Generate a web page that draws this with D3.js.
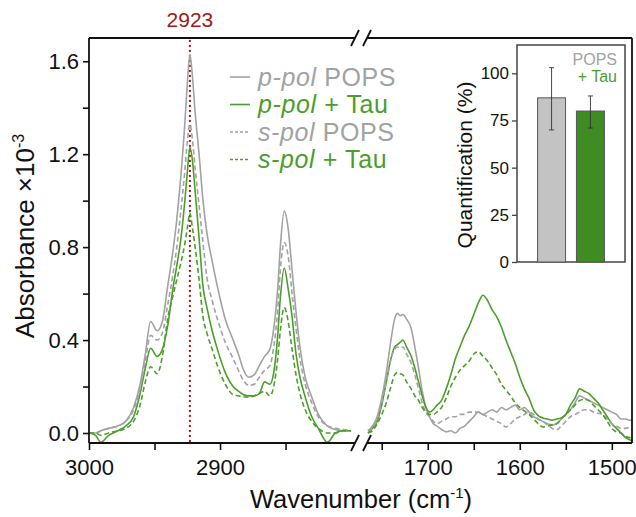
<!DOCTYPE html>
<html>
<head>
<meta charset="utf-8">
<script src="https://cdn.jsdelivr.net/npm/d3@7"></script>
<style>
  html, body { margin: 0; padding: 0; background: #fff; }
  svg { display: block; font-family: "Liberation Sans", Arial, sans-serif; }
</style>
</head>
<body>
<svg id="chart" width="636" height="517"></svg>
<script>
// ---------------- DATA ----------------
const wnLeft = [3000, 2995, 2991, 2985, 2978, 2972, 2966, 2961, 2957, 2953, 2948, 2944, 2940, 2936, 2933, 2930, 2927, 2925, 2923, 2921, 2919, 2916, 2913, 2910, 2906, 2902, 2896, 2890, 2886, 2882, 2878, 2874, 2870, 2866, 2862, 2859, 2856, 2854, 2851, 2848, 2845, 2842, 2839, 2835, 2830, 2825, 2818, 2812, 2806, 2800];
const pPolPOPS_L = [0.00, 0.00, 0.01, 0.02, 0.03, 0.05, 0.11, 0.21, 0.34, 0.48, 0.44, 0.48, 0.63, 0.78, 0.92, 1.10, 1.32, 1.50, 1.63, 1.53, 1.38, 1.20, 1.00, 0.86, 0.74, 0.63, 0.49, 0.40, 0.34, 0.27, 0.24, 0.25, 0.29, 0.33, 0.36, 0.45, 0.62, 0.80, 0.955, 0.88, 0.70, 0.52, 0.37, 0.24, 0.155, 0.08, 0.03, 0.015, 0.01, 0.01];
const pPolTau_L = [0.00, -0.01, -0.04, -0.01, 0.01, 0.03, 0.07, 0.17, 0.28, 0.365, 0.33, 0.36, 0.46, 0.62, 0.72, 0.83, 0.99, 1.12, 1.23, 1.17, 1.04, 0.84, 0.63, 0.54, 0.44, 0.36, 0.26, 0.20, 0.18, 0.165, 0.16, 0.16, 0.17, 0.22, 0.21, 0.26, 0.42, 0.58, 0.71, 0.62, 0.50, 0.34, 0.24, 0.155, 0.07, 0.02, -0.04, 0.00, 0.01, 0.01];
const sPolPOPS_L = [0.00, 0.00, 0.01, 0.02, 0.03, 0.05, 0.10, 0.19, 0.31, 0.42, 0.40, 0.43, 0.55, 0.68, 0.80, 0.95, 1.12, 1.25, 1.33, 1.26, 1.14, 0.98, 0.82, 0.67, 0.57, 0.49, 0.39, 0.32, 0.27, 0.225, 0.205, 0.21, 0.24, 0.27, 0.29, 0.37, 0.53, 0.70, 0.82, 0.76, 0.60, 0.45, 0.32, 0.21, 0.13, 0.07, 0.03, 0.02, 0.015, 0.01];
const sPolTau_L = [0.00, 0.00, -0.01, 0.00, 0.01, 0.02, 0.05, 0.12, 0.22, 0.285, 0.255, 0.33, 0.49, 0.59, 0.66, 0.73, 0.81, 0.88, 0.946, 0.88, 0.80, 0.66, 0.50, 0.43, 0.36, 0.29, 0.21, 0.165, 0.16, 0.155, 0.155, 0.16, 0.17, 0.18, 0.16, 0.20, 0.32, 0.44, 0.54, 0.48, 0.36, 0.25, 0.17, 0.10, 0.05, 0.02, 0.00, 0.00, 0.01, 0.01];

const wnRight = [1765, 1760, 1755, 1750, 1745, 1740, 1736, 1733, 1730, 1727, 1723, 1718, 1714, 1710, 1706, 1702, 1698, 1694, 1690, 1685, 1680, 1675, 1670, 1665, 1660, 1655, 1650, 1645, 1640, 1635, 1630, 1625, 1620, 1615, 1610, 1605, 1600, 1595, 1590, 1585, 1580, 1575, 1570, 1565, 1560, 1555, 1550, 1545, 1540, 1535, 1530, 1525, 1520, 1515, 1510, 1505, 1500, 1495, 1490, 1485, 1480, 1477];
const pPolPOPS_R = [0.01, 0.03, 0.07, 0.15, 0.26, 0.40, 0.49, 0.515, 0.505, 0.51, 0.49, 0.45, 0.37, 0.28, 0.18, 0.11, 0.07, 0.04, 0.03, 0.015, 0.005, 0.01, 0.00, 0.02, 0.03, 0.05, 0.07, 0.09, 0.08, 0.09, 0.10, 0.09, 0.11, 0.10, 0.11, 0.12, 0.10, 0.11, 0.09, 0.07, 0.06, 0.05, 0.04, 0.035, 0.04, 0.06, 0.08, 0.10, 0.13, 0.16, 0.15, 0.14, 0.13, 0.12, 0.11, 0.10, 0.09, 0.08, 0.06, 0.06, 0.055, 0.06];
const pPolTau_R = [0.00, 0.02, 0.05, 0.12, 0.22, 0.32, 0.37, 0.38, 0.39, 0.40, 0.37, 0.33, 0.28, 0.22, 0.16, 0.11, 0.09, 0.10, 0.12, 0.14, 0.19, 0.25, 0.32, 0.37, 0.42, 0.46, 0.51, 0.56, 0.593, 0.57, 0.53, 0.50, 0.456, 0.40, 0.35, 0.30, 0.24, 0.19, 0.15, 0.10, 0.075, 0.065, 0.06, 0.055, 0.06, 0.065, 0.08, 0.12, 0.15, 0.19, 0.18, 0.17, 0.15, 0.13, 0.10, 0.07, 0.04, 0.02, 0.00, -0.02, -0.03, -0.035];
const sPolPOPS_R = [0.01, 0.02, 0.06, 0.13, 0.22, 0.32, 0.36, 0.37, 0.365, 0.37, 0.34, 0.30, 0.25, 0.19, 0.13, 0.09, 0.07, 0.05, 0.04, 0.05, 0.06, 0.07, 0.07, 0.08, 0.08, 0.09, 0.09, 0.09, 0.08, 0.07, 0.06, 0.05, 0.04, 0.026, 0.04, 0.06, 0.07, 0.08, 0.09, 0.08, 0.06, 0.05, 0.035, 0.02, 0.013, 0.03, 0.05, 0.07, 0.08, 0.09, 0.10, 0.10, 0.09, 0.085, 0.08, 0.06, 0.04, 0.03, 0.02, 0.02, 0.026, 0.03];
const sPolTau_R = [0.00, 0.01, 0.04, 0.08, 0.13, 0.20, 0.25, 0.26, 0.255, 0.25, 0.22, 0.19, 0.16, 0.14, 0.11, 0.09, 0.08, 0.08, 0.09, 0.11, 0.15, 0.20, 0.24, 0.27, 0.29, 0.31, 0.34, 0.35, 0.33, 0.31, 0.28, 0.25, 0.21, 0.185, 0.16, 0.13, 0.11, 0.095, 0.08, 0.06, 0.04, 0.026, 0.03, 0.035, 0.04, 0.06, 0.08, 0.10, 0.12, 0.14, 0.145, 0.14, 0.12, 0.10, 0.08, 0.05, 0.02, 0.005, 0.00, -0.015, -0.02, -0.02];

const markerWn = 2923;

const yTicks = [0.0, 0.4, 0.8, 1.2, 1.6];
const yMinorTicks = [0.2, 0.6, 1.0, 1.4];
const xTicksLeft = [3000, 2900];
const xMinorLeft = [2950, 2850];
const xTicksRight = [1700, 1600, 1500];
const xMinorRight = [1750, 1650, 1550];

const legendLabels = [["p-pol", " POPS"], ["p-pol", " + Tau"], ["s-pol", " POPS"], ["s-pol", " + Tau"]];

const barCats = ["POPS", "+ Tau"];
const barValues = [87, 80];
const barErrLow = [70, 71];
const barErrHigh = [103, 88];
const insetTicks = [0, 25, 50, 75, 100];

// ---------------- STYLE ----------------
const GRAY = "#a2a2a2";
const GREEN = "#4c9e2c";
const RED = "#a01818";
const series = [
  { L: pPolPOPS_L, R: pPolPOPS_R, color: GRAY, dash: null },
  { L: pPolTau_L, R: pPolTau_R, color: GREEN, dash: null },
  { L: sPolPOPS_L, R: sPolPOPS_R, color: GRAY, dash: "5,3" },
  { L: sPolTau_L, R: sPolTau_R, color: GREEN, dash: "5,3" }
];

const svg = d3.select("#chart");
const pTop = 38, pBottom = 443, pLeft = 89, pRight = 632;
const breakL = 355, breakR = 367;

const y = d3.scaleLinear().domain([-0.043, 1.70]).range([pBottom, pTop]);
const xL = d3.scaleLinear().domain([3000, 2797]).range([pLeft, breakL]);
const xR = d3.scaleLinear().domain([1766, 1477]).range([breakR, pRight + 1]);

// clip paths
const defs = svg.append("defs");
defs.append("clipPath").attr("id", "clipL").append("rect")
  .attr("x", pLeft).attr("y", pTop).attr("width", breakL - pLeft).attr("height", pBottom - pTop);
defs.append("clipPath").attr("id", "clipR").append("rect")
  .attr("x", breakR).attr("y", pTop).attr("width", pRight - breakR).attr("height", pBottom - pTop);

// red dotted marker line
svg.append("line")
  .attr("x1", xL(markerWn)).attr("x2", xL(markerWn))
  .attr("y1", pTop + 3).attr("y2", pBottom)
  .attr("stroke", RED).attr("stroke-width", 2.3)
  .attr("stroke-dasharray", "0.1,4.9").attr("stroke-linecap", "round");
svg.append("text")
  .attr("x", xL(markerWn)).attr("y", 27)
  .attr("text-anchor", "middle").attr("font-size", 21).attr("fill", RED)
  .text(String(markerWn));

// spectra
const lineL = d3.line().x((d, i) => xL(wnLeft[i])).y(d => y(d)).curve(d3.curveMonotoneX);
const lineR = d3.line().x((d, i) => xR(wnRight[i])).y(d => y(d)).curve(d3.curveMonotoneX);
const gL = svg.append("g").attr("clip-path", "url(#clipL)");
const gR = svg.append("g").attr("clip-path", "url(#clipR)");
series.forEach(s => {
  gL.append("path").attr("d", lineL(s.L)).attr("fill", "none")
    .attr("stroke", s.color).attr("stroke-width", 1.6)
    .attr("stroke-dasharray", s.dash);
  gR.append("path").attr("d", lineR(s.R)).attr("fill", "none")
    .attr("stroke", s.color).attr("stroke-width", 1.6)
    .attr("stroke-dasharray", s.dash);
});

// frame
const frame = svg.append("g").attr("stroke", "#111").attr("stroke-width", 1.8).attr("fill", "none");
frame.append("line").attr("x1", pLeft).attr("x2", pLeft).attr("y1", pTop).attr("y2", pBottom);
frame.append("line").attr("x1", pRight).attr("x2", pRight).attr("y1", pTop).attr("y2", pBottom);
[pTop, pBottom].forEach(yy => {
  frame.append("line").attr("x1", pLeft).attr("x2", breakL).attr("y1", yy).attr("y2", yy);
  frame.append("line").attr("x1", breakR).attr("x2", pRight).attr("y1", yy).attr("y2", yy);
  [breakL, breakR].forEach(cx => {
    frame.append("line").attr("x1", cx - 4).attr("x2", cx + 4)
      .attr("y1", yy + 8).attr("y2", yy - 8);
  });
});

// axes
function styleAxis(g, fs) {
  g.select(".domain").remove();
  g.selectAll(".tick line").attr("stroke", "#111").attr("stroke-width", 1.6);
  g.selectAll(".tick text").attr("font-size", fs).attr("fill", "#111")
    .attr("font-family", "'Liberation Sans', Arial, sans-serif");
}
svg.append("g").attr("transform", `translate(${pLeft},0)`)
  .call(d3.axisLeft(y).tickValues(yTicks).tickSize(6).tickPadding(4).tickFormat(d3.format(".1f")))
  .call(g => styleAxis(g, 22));
svg.append("g").attr("transform", `translate(${pLeft},0)`)
  .call(d3.axisLeft(y).tickValues(yMinorTicks).tickSize(6).tickFormat(""))
  .call(g => styleAxis(g, 22));
[[xL, xTicksLeft, xMinorLeft], [xR, xTicksRight, xMinorRight]].forEach(([sc, major, minor]) => {
  svg.append("g").attr("transform", `translate(0,${pBottom})`)
    .call(d3.axisBottom(sc).tickValues(major).tickSize(7).tickPadding(9).tickFormat(d3.format("d")))
    .call(g => styleAxis(g, 22));
  svg.append("g").attr("transform", `translate(0,${pBottom})`)
    .call(d3.axisBottom(sc).tickValues(minor).tickSize(7).tickFormat(""))
    .call(g => styleAxis(g, 22));
});

// axis titles
const yTitle = svg.append("text")
  .attr("transform", "translate(34,236) rotate(-90)")
  .attr("text-anchor", "middle").attr("font-size", 26).attr("fill", "#111");
yTitle.append("tspan").text("Absorbance ×10");
yTitle.append("tspan").attr("dy", -10).attr("font-size", 16).text("-3");

const xTitle = svg.append("text")
  .attr("x", 361).attr("y", 508)
  .attr("text-anchor", "middle").attr("font-size", 25.5).attr("fill", "#111");
xTitle.append("tspan").text("Wavenumber (cm");
xTitle.append("tspan").attr("dy", -10).attr("font-size", 15).text("-1");
xTitle.append("tspan").attr("dy", 10).text(")");

// legend
const legY0 = 77, legDy = 27.5;
series.forEach((s, i) => {
  const yy = legY0 + i * legDy;
  svg.append("line").attr("x1", 230).attr("x2", 250).attr("y1", yy).attr("y2", yy)
    .attr("stroke", s.color).attr("stroke-width", 1.6)
    .attr("stroke-dasharray", s.dash ? "3,2" : null);
  const t = svg.append("text").attr("x", 258).attr("y", yy + 8.5)
    .attr("font-size", 25).attr("letter-spacing", 0.6).attr("fill", s.color);
  t.append("tspan").attr("font-style", "italic").text(legendLabels[i][0]);
  t.append("tspan").text(legendLabels[i][1]);
});

// inset bar chart
const inL = 517, inR = 625, inT = 45, inB = 262;
const yi = d3.scaleLinear().domain([0, 115]).range([inB, inT]);
const xi = d3.scaleBand().domain(barCats).range([inL, inR]).paddingInner(0.28).paddingOuter(0.53);
svg.append("rect").attr("x", inL).attr("y", inT).attr("width", inR - inL).attr("height", inB - inT)
  .attr("fill", "#fff").attr("stroke", "#444").attr("stroke-width", 1.5);
const barFill = ["#c3c3c3", "#3f8c22"];
barCats.forEach((c, i) => {
  svg.append("rect").attr("x", xi(c)).attr("y", yi(barValues[i]))
    .attr("width", xi.bandwidth()).attr("height", yi(0) - yi(barValues[i]))
    .attr("fill", barFill[i]).attr("stroke", "#555").attr("stroke-width", 1);
  const cx = xi(c) + xi.bandwidth() / 2;
  const eb = svg.append("g").attr("stroke", "#333").attr("stroke-width", 0.9);
  eb.append("line").attr("x1", cx).attr("x2", cx).attr("y1", yi(barErrLow[i])).attr("y2", yi(barErrHigh[i]));
  eb.append("line").attr("x1", cx - 2.5).attr("x2", cx + 2.5).attr("y1", yi(barErrLow[i])).attr("y2", yi(barErrLow[i]));
  eb.append("line").attr("x1", cx - 2.5).attr("x2", cx + 2.5).attr("y1", yi(barErrHigh[i])).attr("y2", yi(barErrHigh[i]));
});
svg.append("g").attr("transform", `translate(${inL},0)`)
  .call(d3.axisLeft(yi).tickValues(insetTicks).tickSize(5).tickPadding(3))
  .call(g => { styleAxis(g, 17); g.selectAll(".tick line").attr("stroke", "#444").attr("stroke-width", 1.3); });
svg.append("text")
  .attr("transform", "translate(472,165) rotate(-90)")
  .attr("text-anchor", "middle").attr("font-size", 21).attr("fill", "#111")
  .text("Quantification (%)");
svg.append("text").attr("x", 617).attr("y", 65).attr("text-anchor", "end")
  .attr("font-size", 16).attr("fill", GRAY).text(barCats[0]);
svg.append("text").attr("x", 617).attr("y", 82).attr("text-anchor", "end")
  .attr("font-size", 16).attr("fill", GREEN).text(barCats[1]);
</script>
</body>
</html>
